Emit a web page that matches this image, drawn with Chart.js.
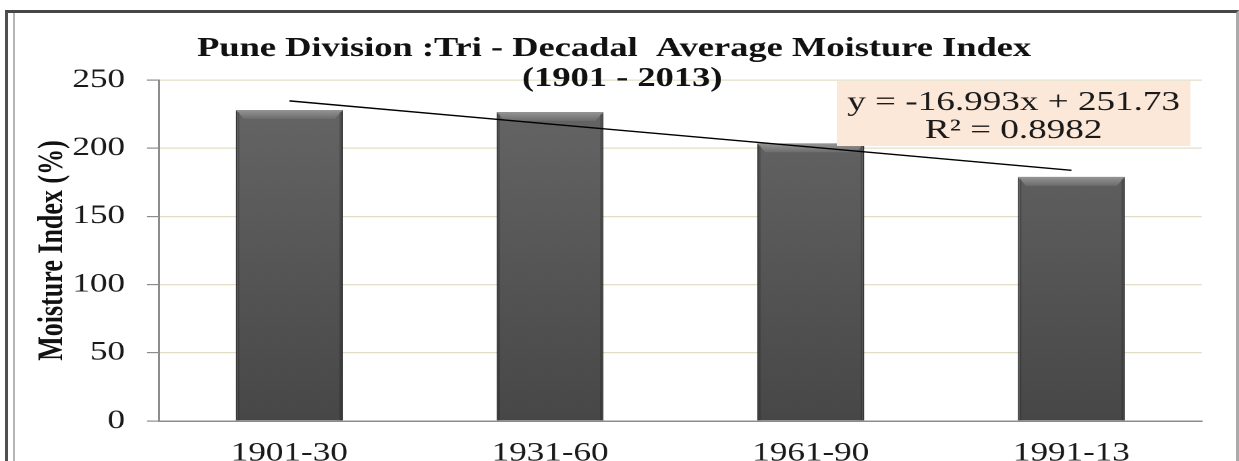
<!DOCTYPE html>
<html>
<head>
<meta charset="utf-8">
<script src="https://cdn.jsdelivr.net/npm/chart.js@4.4.1/dist/chart.umd.min.js"></script>
<style>
html, body { margin: 0; padding: 0; background: #fff; }
#wrap { position: relative; width: 1239px; height: 461px; overflow: hidden; }
#moistChart { position: absolute; left: 0; top: 0; }
.frame { position: absolute; left: 5px; top: 10px; width: 1234px; height: 470px; box-sizing: border-box;
         border-top: 3px solid #474747; border-left: 3px solid #505050; border-right: 3px solid #ababab; pointer-events: none; }
.frame-in { position: absolute; left: 13px; top: 13px; width: 0; height: 460px; border-left: 2px solid #b5b5b5; pointer-events: none; }
</style>
</head>
<body>
<div id="wrap">
    <canvas id="moistChart" width="918" height="461" style="width:1239px;height:461px"></canvas>
    <div class="frame"></div>
    <div class="frame-in"></div>
</div>
<script>
const categories = ["1901-30", "1931-60", "1961-90", "1991-13"];
const moistureIndex = [228, 226.5, 203.5, 179];
// linear trendline (y = -16.993x + 251.73)
const trendLine = [234.7, 217.7, 200.8, 183.8];
const titleLines = ["Pune Division :Tri - Decadal  Average Moisture Index", "(1901 - 2013)"];
const equationLines = ["y = -16.993x + 251.73", "R\u00B2 = 0.8982"];
const yAxisTitle = "Moisture Index (%)";

const serif = '"Liberation Serif", "Times New Roman", serif';

// the original picture is stretched sideways, so the canvas is drawn narrower
// and scaled up by css (918 -> 1239)

function barFill(context) {
    const area = context.chart.chartArea;
    if (!area) return "#555";
    const g = context.chart.ctx.createLinearGradient(0, area.top, 0, area.bottom);
    g.addColorStop(0, "#676767");
    g.addColorStop(1, "#474747");
    return g;
}

const bevel = {
    id: "bevel",
    afterDatasetDraw(chart, args) {
        if (args.index !== 0) return;
        const ctx = chart.ctx;
        ctx.save();
        args.meta.data.forEach(bar => {
            const l = bar.x - bar.width / 2;
            const r = bar.x + bar.width / 2;
            const t = bar.y;
            const b = bar.base;
            const dx = 6, dy = 9;

            let g = ctx.createLinearGradient(0, t, 0, t + dy);
            g.addColorStop(0, "#959595");
            g.addColorStop(1, "#6c6c6c");
            ctx.fillStyle = g;
            ctx.beginPath();
            ctx.moveTo(l, t);
            ctx.lineTo(r, t);
            ctx.lineTo(r - dx, t + dy);
            ctx.lineTo(l + dx, t + dy);
            ctx.closePath();
            ctx.fill();

            ctx.fillStyle = "rgba(0,0,0,0.18)";
            ctx.fillRect(l, t + 2, 2.5, b - t - 2);
            ctx.fillRect(r - 2.5, t + 2, 2.5, b - t - 2);
        });
        ctx.restore();
    }
};

const titles = {
    id: "titles",
    afterDraw(chart) {
        const ctx = chart.ctx;
        ctx.save();
        ctx.textAlign = "center";
        ctx.textBaseline = "middle";
        ctx.fillStyle = "#111";
        ctx.font = "bold 27px " + serif;
        ctx.fillText(titleLines[0], 455, 49);
        ctx.fillText(titleLines[1], 461, 79);

        // equation label
        ctx.fillStyle = "#fce8d8";
        ctx.fillRect(620, 81, 262, 65);
        ctx.fillStyle = "#1a1a1a";
        ctx.font = "27.5px " + serif;
        ctx.fillText(equationLines[0], 751, 103);
        ctx.fillText(equationLines[1], 751, 131);
        ctx.restore();
    }
};

new Chart(document.getElementById("moistChart"), {
    type: "bar",
    data: {
        labels: categories,
        datasets: [{
            type: "bar",
            data: moistureIndex,
            backgroundColor: barFill,
            borderColor: "#3a3a3a",
            borderWidth: 1,
            barPercentage: 0.41,
            categoryPercentage: 1,
            order: 2
        }, {
            type: "line",
            data: trendLine,
            borderColor: "#000",
            borderWidth: 1.4,
            pointRadius: 0,
            fill: false,
            tension: 0,
            order: 1
        }]
    },
    options: {
        responsive: false,
        animation: false,
        devicePixelRatio: 2,
        layout: { padding: { left: 10, right: 27.6, top: 80, bottom: 0 } },
        plugins: {
            legend: { display: false },
            tooltip: { enabled: false },
            title: { display: false }
        },
        scales: {
            x: {
                grid: { color: "rgba(0,0,0,0)", drawTicks: false },
                border: { color: "#8c8c8c", width: 1.5 },
                ticks: { padding: 17, color: "#1a1a1a", font: { family: serif, size: 26 } },
                afterFit(s) { s.height = 40; }
            },
            y: {
                min: 0,
                max: 250,
                ticks: { stepSize: 50, padding: 16.3, color: "#1a1a1a", font: { family: serif, size: 26 } },
                grid: { color: "#e2ddc6", lineWidth: 1.2, tickLength: 8.9, tickColor: "#8c8c8c" },
                border: { color: "#8c8c8c", width: 1.5 },
                title: {
                    display: true,
                    text: yAxisTitle,
                    color: "#111",
                    font: { family: serif, size: 26, weight: "bold", lineHeight: 1.2 },
                    padding: { top: 13.7, bottom: 0 }
                },
                afterFit(s) { s.width = 107.8; }
            }
        }
    },
    plugins: [bevel, titles]
});
</script>
</body>
</html>
